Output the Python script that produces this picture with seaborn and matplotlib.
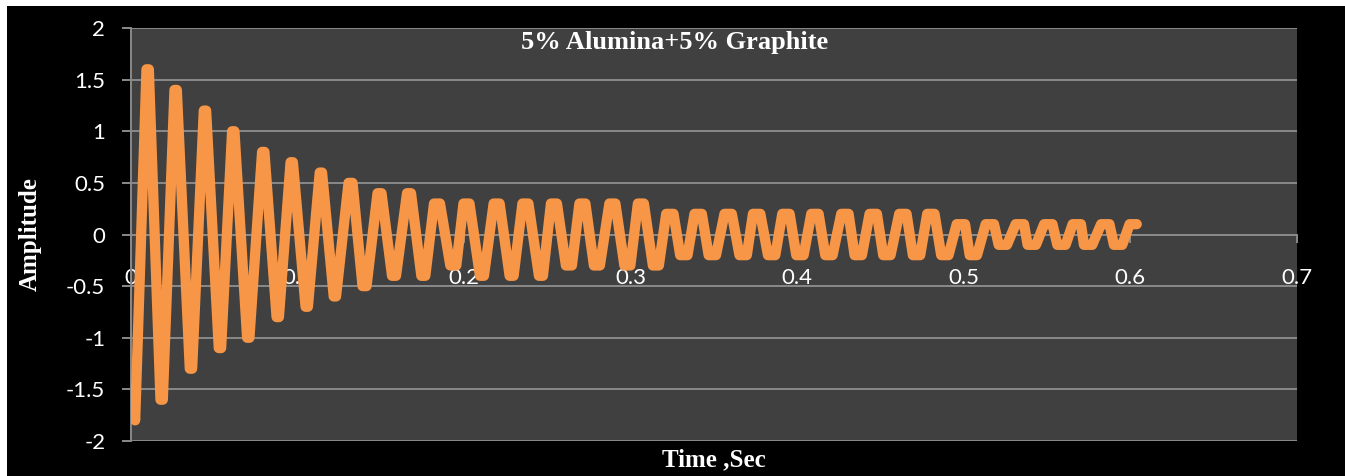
import matplotlib
matplotlib.use("Agg")
import matplotlib.pyplot as plt
import seaborn as sns
import pandas as pd
from matplotlib.patches import Rectangle

# ---------------- data ----------------
# each peak / trough is a short plateau (start and end sample)
time_s = [0.0000, 0.0025,
          0.0093, 0.0107, 0.0177, 0.0191, 0.0261, 0.0275, 0.0353, 0.0367,
          0.0437, 0.0451, 0.0527, 0.0541, 0.0607, 0.0621, 0.0697, 0.0711,
          0.0787, 0.0801, 0.0874, 0.0888, 0.0958, 0.0972, 0.1048, 0.1062,
          0.1133, 0.1147, 0.1217, 0.1231, 0.1306, 0.1330, 0.1390, 0.1414,
          0.1480, 0.1504, 0.1567, 0.1591, 0.1657, 0.1681, 0.1743, 0.1767,
          0.1819, 0.1855, 0.1917, 0.1953, 0.1996, 0.2032, 0.2095, 0.2119,
          0.2177, 0.2213, 0.2273, 0.2297, 0.2350, 0.2386, 0.2449, 0.2473,
          0.2521, 0.2557, 0.2611, 0.2647, 0.2692, 0.2728, 0.2779, 0.2815,
          0.2872, 0.2908, 0.2962, 0.2998, 0.3043, 0.3079, 0.3133, 0.3169,
          0.3213, 0.3257, 0.3297, 0.3341, 0.3383, 0.3427, 0.3468, 0.3512,
          0.3563, 0.3607, 0.3653, 0.3697, 0.3734, 0.3778, 0.3824, 0.3868,
          0.3910, 0.3954, 0.3994, 0.4038, 0.4084, 0.4128, 0.4168, 0.4212,
          0.4264, 0.4308, 0.4344, 0.4388, 0.4434, 0.4478, 0.4516, 0.4560,
          0.4612, 0.4656, 0.4694, 0.4738, 0.4780, 0.4824, 0.4864, 0.4908,
          0.4957, 0.5007, 0.5035, 0.5079, 0.5131, 0.5181, 0.5209, 0.5259,
          0.5311, 0.5361, 0.5383, 0.5433, 0.5482, 0.5532, 0.5561, 0.5611,
          0.5653, 0.5703, 0.5721, 0.5771, 0.5824, 0.5874, 0.5901, 0.5951,
          0.5995, 0.6038]
amplitude = [-1.5, -1.8,
             1.6, 1.6, -1.6, -1.6, 1.4, 1.4, -1.3, -1.3,
             1.2, 1.2, -1.1, -1.1, 1.0, 1.0, -1.0, -1.0,
             0.8, 0.8, -0.8, -0.8, 0.7, 0.7, -0.7, -0.7,
             0.6, 0.6, -0.6, -0.6, 0.5, 0.5, -0.5, -0.5,
             0.4, 0.4, -0.4, -0.4, 0.4, 0.4, -0.4, -0.4,
             0.3, 0.3, -0.3, -0.3, 0.3, 0.3, -0.4, -0.4,
             0.3, 0.3, -0.4, -0.4, 0.3, 0.3, -0.4, -0.4,
             0.3, 0.3, -0.3, -0.3, 0.3, 0.3, -0.3, -0.3,
             0.3, 0.3, -0.3, -0.3, 0.3, 0.3, -0.3, -0.3,
             0.2, 0.2, -0.2, -0.2, 0.2, 0.2, -0.2, -0.2,
             0.2, 0.2, -0.2, -0.2, 0.2, 0.2, -0.2, -0.2,
             0.2, 0.2, -0.2, -0.2, 0.2, 0.2, -0.2, -0.2,
             0.2, 0.2, -0.2, -0.2, 0.2, 0.2, -0.2, -0.2,
             0.2, 0.2, -0.2, -0.2, 0.2, 0.2, -0.2, -0.2,
             0.1, 0.1, -0.2, -0.2, 0.1, 0.1, -0.1, -0.1,
             0.1, 0.1, -0.1, -0.1, 0.1, 0.1, -0.1, -0.1,
             0.1, 0.1, -0.1, -0.1, 0.1, 0.1, -0.1, -0.1,
             0.1, 0.1]

x_ticks = [0, 0.1, 0.2, 0.3, 0.4, 0.5, 0.6, 0.7]
x_tick_labels = ["0", "0.1", "0.2", "0.3", "0.4", "0.5", "0.6", "0.7"]
y_ticks = [-2, -1.5, -1, -0.5, 0, 0.5, 1, 1.5, 2]
y_tick_labels = ["-2", "-1.5", "-1", "-0.5", "0", "0.5", "1", "1.5", "2"]

title = "5% Alumina+5% Graphite"
x_label = "Time ,Sec"
y_label = "Amplitude"

df = pd.DataFrame({"Time": time_s, "Amplitude": amplitude})

# ---------------- styling ----------------
sns.set_theme(style="dark")
plt.rcParams["font.family"] = ["Lato", "DejaVu Sans"]
plt.rcParams["axes.unicode_minus"] = False

W, H = 1345, 476
fig = plt.figure(figsize=(W / 100, H / 100), dpi=100, facecolor="white")
fig.patches.append(Rectangle((7 / W, 0), 1 - 7 / W, 1 - 6 / H,
                             transform=fig.transFigure, facecolor="black",
                             edgecolor="none", zorder=-10))

left, right, top, bottom = 131, 1297, 28, 441
ax = fig.add_axes([left / W, 1 - bottom / H, (right - left) / W, (bottom - top) / H])
ax.set_facecolor("#404040")

grid_col = "#8a8a8a"
sns.lineplot(data=df, x="Time", y="Amplitude", ax=ax, color="#F79646",
             linewidth=7.4, estimator=None, sort=False,
             solid_joinstyle="round", solid_capstyle="round", zorder=3)

ax.set_xlim(0, 0.7)
ax.set_ylim(-2, 2)
ax.set_yticks(y_ticks)
ax.set_yticklabels(y_tick_labels)
ax.set_xticks(x_ticks)
ax.set_xticklabels(x_tick_labels)

ax.grid(False)
for yv in y_ticks:
    ax.axhline(yv, color=grid_col, linewidth=1.4, zorder=1)

for s in ["top", "right"]:
    ax.spines[s].set_visible(False)
ax.spines["left"].set_color(grid_col)
ax.spines["left"].set_linewidth(1.4)
ax.spines["bottom"].set_position(("data", 0))
ax.spines["bottom"].set_color(grid_col)
ax.spines["bottom"].set_linewidth(1.4)

ax.tick_params(axis="y", direction="out", length=6.5, width=1.4, color=grid_col,
               pad=12, labelsize=16, labelcolor="white", left=True)
ax.tick_params(axis="x", direction="out", length=5.8, width=1.4, color=grid_col,
               pad=18, labelsize=16, labelcolor="white", bottom=True)

serif = ["Liberation Serif", "DejaVu Serif"]
ax.set_xlabel(x_label, fontsize=18, fontweight="bold", color="white", family=serif)
ax.set_ylabel(y_label, fontsize=18, fontweight="bold", color="white", family=serif)
ax.xaxis.set_label_coords(0.5, -0.046)
ax.xaxis.label.set_verticalalignment("center")
ax.yaxis.set_label_coords(-0.0866, 0.5)
ax.yaxis.label.set_verticalalignment("center")

fig.text(674.5 / W, 1 - 42 / H, title, ha="center", va="center", fontsize=19,
         fontweight="bold", color="white", family=serif)

fig.savefig("out.png", dpi=100, facecolor=fig.get_facecolor())
